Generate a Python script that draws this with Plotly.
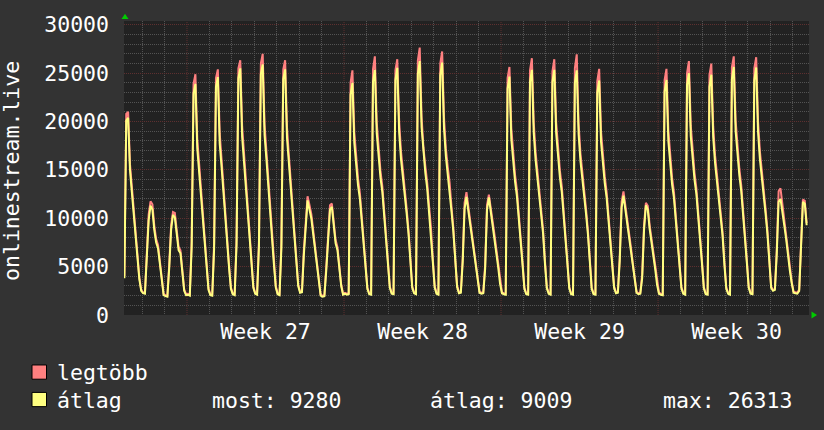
import plotly.graph_objects as go

# ---- data (2-hour samples, hours counted from Monday 00:00 of week 27) ----
first_hour = -67          # Friday of week 26, 05:00
step_hours = 2

# átlag (average) – week 26: Fri (from 05:00), Sat, Sun
avg_w26 = [3800, 20100, 20400, 15000, 12700, 10200, 7700, 6000, 3700, 2500,
           2250, 2200, 5500, 9800, 11300, 10900, 8800, 7500, 6900, 5200, 3100, 2050,
           1950, 1900, 4900, 8800, 10350, 10100, 8400, 6700, 6400, 4300, 2500, 2050]
avg_w27 = [2100, 2000, 7000, 22900, 23900, 17200, 14800, 12200, 10000, 7400, 4800, 2600,
           2050, 2000, 6800, 23600, 24600, 17700, 15300, 12500, 10300, 7600, 4900, 2700,
           2150, 2050, 7200, 24500, 25500, 18400, 15800, 13000, 10700, 7900, 5100, 2800,
           2200, 2100, 7100, 24900, 25900, 18600, 16100, 13200, 10900, 8000, 5200, 2850,
           2150, 2050, 6900, 24400, 25400, 18300, 15700, 13000, 10700, 7900, 5100, 3000,
           2300, 2350, 6200, 9500, 11850, 10900, 10000, 8400, 6800, 5000, 3000, 2000,
           1900, 1950, 4600, 8400, 10900, 11180, 8900, 7400, 6700, 4900, 3000, 2100]
avg_w28 = [2200, 2100, 2150, 22800, 24000, 17800, 15100, 13400, 12000, 9800, 7900, 5000,
           2700, 2150, 2100, 24100, 25350, 18800, 16000, 14200, 12700, 10400, 8400, 5300,
           2800, 2200, 2150, 24300, 25550, 18900, 16100, 14300, 12800, 10500, 8400, 5400,
           2800, 2250, 2150, 24900, 26250, 19400, 16500, 14700, 13100, 10800, 8700, 5500,
           2850, 2200, 2100, 24800, 26100, 19300, 16400, 14600, 13100, 10700, 8600, 5500,
           2900, 2250, 2300, 5500, 11000, 12200, 10700, 9200, 8100, 6600, 5000, 3300,
           2300, 2200, 2250, 4800, 10900, 12150, 10800, 9100, 8000, 6500, 4900, 3200]
avg_w29 = [2250, 2150, 2100, 23400, 24650, 18200, 15500, 13800, 12300, 10100, 8100, 5200,
           2700, 2150, 2100, 24100, 25350, 18800, 16000, 14200, 12700, 10400, 8400, 5300,
           2750, 2200, 2100, 24100, 25350, 18800, 16000, 14200, 12700, 10400, 8400, 5300,
           2750, 2150, 2100, 24000, 25300, 18700, 15900, 14200, 12700, 10400, 8300, 5300,
           2700, 2150, 2100, 23000, 24250, 17900, 15300, 13600, 12100, 9900, 8000, 5100,
           2800, 2250, 2300, 5600, 11100, 12350, 10900, 9300, 8200, 6700, 5100, 3400,
           2300, 2150, 2200, 3800, 8800, 11350, 10900, 8900, 7600, 6200, 4700, 3100]
avg_w30 = [2200, 2100, 2050, 23100, 24300, 18000, 15300, 13500, 12100, 9900, 8000, 5100,
           2750, 2200, 2100, 23800, 25000, 18500, 15800, 14000, 12500, 10300, 8300, 5300,
           2750, 2150, 2100, 23600, 24850, 18400, 15700, 13900, 12400, 10200, 8200, 5200,
           2700, 2200, 2100, 24400, 25650, 19000, 16200, 14400, 12800, 10500, 8500, 5400,
           2800, 2200, 2150, 24300, 25600, 18900, 16100, 14300, 12800, 10500, 8400, 5400,
           2800, 2500, 2600, 6300, 11700, 12000, 10800, 9300, 7900, 6000, 4600, 3300,
           2300, 2250, 2200, 2500, 6800, 11700, 11500, 9280]

# legtöbb (maximum)
max_w26 = [4000, 20800, 21000, 15600, 13300, 10700, 8100, 6300, 3900, 2600,
           2350, 2300, 5900, 10400, 11760, 11450, 9250, 7850, 7250, 5450, 3250, 2150,
           2050, 2000, 5250, 9300, 10650, 10550, 8800, 7050, 6700, 4500, 2650, 2150]
max_w27 = [2200, 2100, 7600, 23900, 24900, 18200, 15500, 12800, 10500, 7800, 5000, 2750,
           2150, 2100, 7400, 24500, 25400, 18800, 16100, 13100, 10800, 8000, 5150, 2850,
           2250, 2150, 7800, 25500, 26350, 19500, 16600, 13600, 11200, 8300, 5350, 2950,
           2300, 2200, 7700, 26000, 27000, 19700, 16900, 13900, 11400, 8400, 5450, 3000,
           2250, 2150, 7500, 25400, 26350, 19400, 16500, 13600, 11200, 8300, 5350, 3150,
           2400, 2450, 6700, 10100, 12270, 11400, 10450, 8800, 7100, 5250, 3150, 2100,
           2000, 2050, 5000, 8900, 11350, 11520, 9300, 7750, 7000, 5150, 3150, 2200]
max_w28 = [2300, 2200, 2250, 24000, 25300, 18900, 15900, 14100, 12600, 10300, 8300, 5300,
           2850, 2250, 2200, 25400, 26750, 19900, 16800, 14900, 13300, 10900, 8800, 5600,
           2950, 2300, 2250, 25300, 26450, 20000, 16900, 15000, 13400, 11000, 8800, 5700,
           2950, 2350, 2250, 26300, 27650, 20500, 17300, 15400, 13700, 11300, 9100, 5800,
           3000, 2300, 2200, 26000, 27250, 20400, 17200, 15300, 13700, 11200, 9000, 5800,
           3050, 2350, 2400, 5900, 11600, 12700, 11200, 9600, 8500, 6900, 5250, 3450,
           2400, 2300, 2350, 5200, 11400, 12450, 11200, 9500, 8300, 6800, 5150, 3350]
max_w29 = [2350, 2250, 2200, 24500, 25650, 19300, 16300, 14500, 12900, 10600, 8500, 5500,
           2850, 2250, 2200, 25300, 26550, 19900, 16800, 14900, 13300, 10900, 8800, 5600,
           2900, 2300, 2200, 25200, 26450, 19900, 16800, 14900, 13300, 10900, 8800, 5600,
           2900, 2250, 2200, 25500, 26950, 19800, 16700, 14900, 13300, 10900, 8700, 5600,
           2850, 2250, 2200, 24200, 25450, 19000, 16100, 14300, 12700, 10400, 8400, 5400,
           2950, 2350, 2400, 6000, 11700, 12770, 11400, 9700, 8600, 7000, 5350, 3550,
           2400, 2250, 2300, 4200, 9300, 11600, 11300, 9300, 7900, 6500, 4950, 3250]
max_w30 = [2300, 2200, 2150, 24300, 25450, 19100, 16100, 14200, 12700, 10400, 8400, 5400,
           2900, 2300, 2200, 25000, 26250, 19600, 16600, 14700, 13100, 10800, 8700, 5600,
           2900, 2250, 2200, 24800, 26000, 19500, 16500, 14600, 13000, 10700, 8600, 5500,
           2850, 2300, 2200, 25600, 26750, 20100, 17000, 15100, 13400, 11000, 8900, 5700,
           2950, 2300, 2250, 25500, 26650, 20000, 16900, 15000, 13400, 11000, 8800, 5700,
           2950, 2600, 2700, 6700, 12800, 13100, 11400, 9700, 8300, 6300, 4850, 3450,
           2400, 2350, 2300, 2650, 7300, 11950, 11800, 9500]

week_labels = ["Week 27", "Week 28", "Week 29", "Week 30"]
legend_names = ["legtöbb", "átlag"]
summary_texts = ["most: 9280", "átlag: 9009", "max: 26313"]
y_title = "onlinestream.live"

# ---- build ----
avg_vals = avg_w26 + avg_w27 + avg_w28 + avg_w29 + avg_w30
max_vals = max_w26 + max_w27 + max_w28 + max_w29 + max_w30
hours = [first_hour + step_hours * i for i in range(len(avg_vals))]

X_RANGE = [-67.4, 665.5]
Y_RANGE = [0, 30400]
L, R, T, B = 124, 15, 15, 115
W, H = 824, 430
PW, PH = W - L - R, H - T - B

def px(xp):
    return (xp - L) / PW

def py(yp):
    return (T + PH - yp) / PH

RED = "#ff8080"
YELLOW = "#ffff80"
FONT = "DejaVu Sans Mono"
FS = 21.5
GRID = "#535353"
MAJOR = "#5e3030"
DASH = "1px,1px"

fig = go.Figure()
fig.add_trace(go.Scatter(x=hours, y=max_vals, mode="lines", name=legend_names[0],
                         line=dict(color=RED, width=2, shape="linear")))
fig.add_trace(go.Scatter(x=hours, y=avg_vals, mode="lines", name=legend_names[1],
                         line=dict(color=YELLOW, width=2, shape="linear")))

week_starts = [168 * k for k in range(0, 4)]
week_mids = [w + 84 for w in week_starts]
day_lines = [h for h in range(-48, 666, 24) if h % 168 != 0]

shapes = []
for w in week_starts:
    shapes.append(dict(type="line", xref="x", yref="paper", x0=w, x1=w, y0=0, y1=1,
                       layer="between", line=dict(color=MAJOR, width=1, dash=DASH)))
# legend squares
shapes.append(dict(type="rect", xref="paper", yref="paper", x0=px(32), x1=px(46.5),
                   y0=py(380.5), y1=py(366), fillcolor=RED, line=dict(color="#000000", width=1)))
shapes.append(dict(type="rect", xref="paper", yref="paper", x0=px(32), x1=px(46.5),
                   y0=py(408.5), y1=py(394), fillcolor=YELLOW, line=dict(color="#000000", width=1)))
# green axis arrows
shapes.append(dict(type="path", xref="paper", yref="paper",
                   path=f"M{px(121.5)},{py(13)} L{px(128.5)},{py(13)} L{px(125)},{py(7.5)} Z",
                   fillcolor="#00cc00", line=dict(width=0)))
shapes.append(dict(type="path", xref="paper", yref="paper",
                   path=f"M{px(811.5)},{py(311.5)} L{px(811.5)},{py(318.5)} L{px(817)},{py(315)} Z",
                   fillcolor="#00cc00", line=dict(width=0)))

annotations = [
    dict(text=y_title, xref="paper", yref="paper", x=px(12), y=0.49, textangle=-90,
         xanchor="center", yanchor="middle", showarrow=False,
         font=dict(family=FONT, size=FS, color="#ffffff")),
    dict(text=legend_names[0], xref="paper", yref="paper", x=px(55), y=py(374),
         xanchor="left", yanchor="middle", showarrow=False,
         font=dict(family=FONT, size=FS, color="#ffffff")),
    dict(text=legend_names[1], xref="paper", yref="paper", x=px(55), y=py(402),
         xanchor="left", yanchor="middle", showarrow=False,
         font=dict(family=FONT, size=FS, color="#ffffff")),
]
for txt, xl in zip(summary_texts, [210, 428, 661]):
    annotations.append(dict(text=txt, xref="paper", yref="paper", x=px(xl), y=py(402),
                            xanchor="left", yanchor="middle", showarrow=False,
                            font=dict(family=FONT, size=FS, color="#ffffff")))

fig.update_layout(
    width=W, height=H,
    margin=dict(l=L, r=R, t=T, b=B, pad=0),
    paper_bgcolor="#333333", plot_bgcolor="#222222",
    showlegend=False,
    font=dict(family=FONT, size=FS, color="#ffffff"),
    shapes=shapes, annotations=annotations,
    xaxis=dict(range=X_RANGE, tickmode="array", tickvals=week_mids, ticktext=week_labels,
               showgrid=False, zeroline=False, showline=False, ticks="",
               ticklabelstandoff=1,
               minor=dict(tickmode="array", tickvals=day_lines, showgrid=True,
                          gridcolor=GRID, gridwidth=1, griddash=DASH)),
    yaxis=dict(range=Y_RANGE, tickmode="linear", tick0=0, dtick=5000, tickformat="d",
               showgrid=True, gridcolor=MAJOR, gridwidth=1, griddash=DASH,
               zeroline=False, showline=False, ticks="", ticklabelstandoff=14,
               minor=dict(tickmode="linear", tick0=0, dtick=1000, showgrid=True,
                          gridcolor=GRID, gridwidth=1, griddash=DASH)),
)

fig.write_html("out.html")
